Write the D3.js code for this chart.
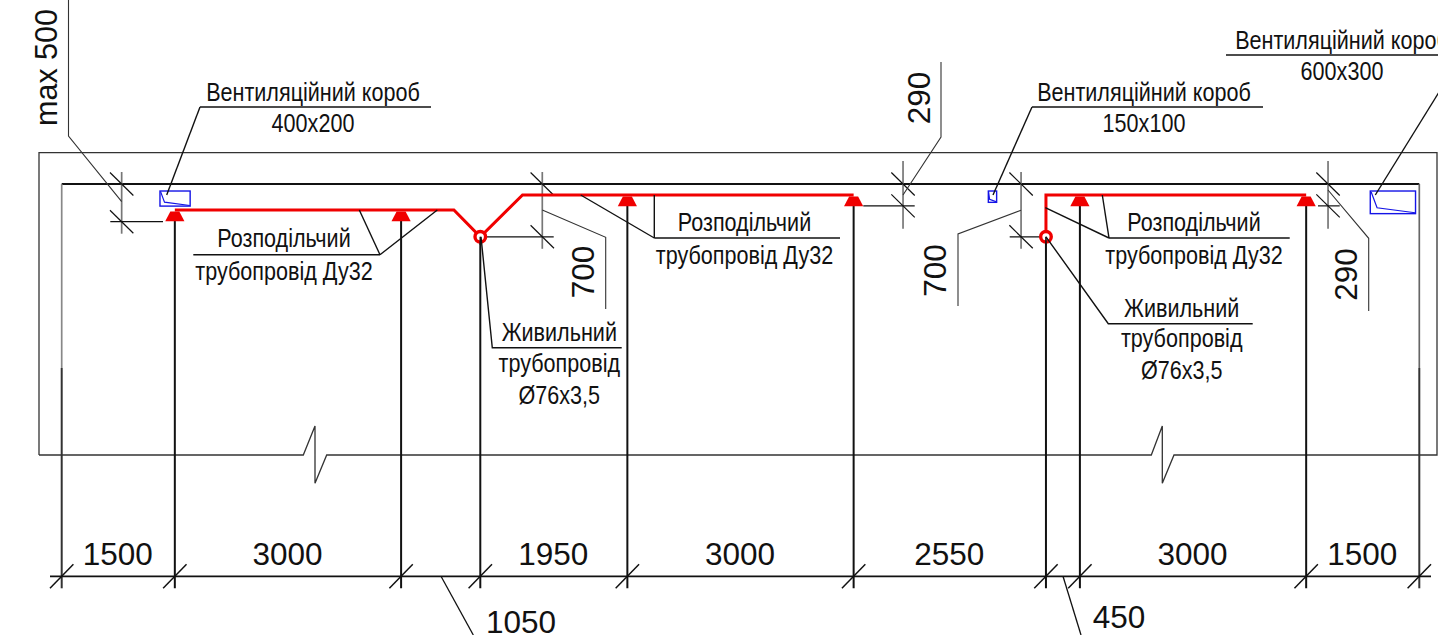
<!DOCTYPE html>
<html lang="uk">
<head>
<meta charset="utf-8">
<title>Розподільчий трубопровід</title>
<script src="https://cdnjs.cloudflare.com/ajax/libs/d3/7.8.5/d3.min.js"></script>
<style>
html,body{margin:0;padding:0;background:#fff;overflow:hidden}
svg{display:block}
text{fill:#111}
.dim{font-family:"Liberation Sans",Arial,sans-serif;font-size:31.5px}
.note{font-family:"Liberation Sans",Arial,sans-serif;font-size:25px}
</style>
</head>
<body>
<svg id="c" width="1438" height="635"></svg>
<script>
// ---- values (millimetres) ----
const spanValues = [1500, 3000, 1050, 1950, 3000, 2550, 450, 3000, 1500];
const spanLabelled = [1500, 3000, null, 1950, 3000, 2550, null, 3000, 1500];
const sprinklerAt = [1500, 4500, 7500, 10500, 13500, 16500];
const sprinklerDrop = [345, 345, 146, 146, 146, 146];
const riserAt = [5550, 13050];
const riserDrop = [700, 700];
const pipeLeftRun = [[1500, 345], [5200, 345], [5550, 700], [6110, 146], [10500, 146]];
const pipeRightRun = [[13050, 700], [13050, 146], [16500, 146]];
const ductAt = [1303, 12286, 17350];
const ductDrop = [93, 93, 93];
const ductWidth = [400, 110, 600];
const ductHeight = [200, 150, 300];
const ductLabels = ["400x200", "150x100", "600x300"];
const ductTitle = "Вентиляційний короб";
const distTitle = ["Розподільчий", "трубопровід Ду32"];
const feedTitle = ["Живильний", "трубопровід", "Ø76x3,5"];
const levelDims = [
  {at: 795, from: 0, to: 500},
  {at: 6372, from: 0, to: 700},
  {at: 11155, from: 0, to: 290},
  {at: 12720, from: 0, to: 700},
  {at: 16790, from: 0, to: 290}
];

// ---- scales ----
const W = 1438, H = 635, RED = "#f00000", BLUE = "#1414e6", INK = "#111";
const x = d3.scaleLinear().domain([0, 18000]).range([61.7, 1419.3]);
const y = d3.scaleLinear().domain([0, 1000]).range([184, 259.42]);
const svg = d3.select("#c");
const line = d3.line();
const NARROW = 0.863;
const path = (pts, w, c) => svg.append("path").attr("d", line(pts)).attr("fill", "none")
  .attr("stroke", c || INK).attr("stroke-width", w || 1.4).attr("stroke-linejoin", "miter");
const label = (cls, s, px, py, rot) => {
  const t = svg.append("text").attr("class", cls).attr("text-anchor", "middle").text(s);
  if (rot) t.attr("transform", `translate(${px},${py}) rotate(-90)`);
  else if (cls === "note") t.attr("transform", `translate(${px},${py}) scale(${NARROW},1)`);
  else t.attr("x", px).attr("y", py);
  return t;
};

// ---- building outline ----
const wallTop = 152.6, wallBottom = 455, dimY = 576.3, dimEnd = 588.3;
path([[39, wallBottom], [39, wallTop], [1437, wallTop], [1437, wallBottom], [1174, wallBottom], [1162.3, 483.3],
      [1162.3, 426], [1151.3, wallBottom], [326.7, wallBottom], [315, 483.3], [315, 426], [303.3, wallBottom], [39, wallBottom]], 1.3, "#333");
path([[x(0), y(0)], [x(18000), y(0)]], 1.9);

// ---- chain of dimensions along the bottom ----
const stops = d3.cumsum(spanValues);
const ticks = [0, ...stops];
const wallHeadY = 368;
path([[x(0), y(0)], [x(0), wallHeadY]], 1.7, "#888");
path([[x(18000), y(0)], [x(18000), wallHeadY]], 1.7, "#666");
path([[x(0), wallHeadY], [x(0), dimEnd]], 2, "#333");
path([[x(18000), wallHeadY], [x(18000), dimEnd]], 2, "#333");
path([[50, dimY], [1431, dimY]], 1.7);
svg.append("g").selectAll("path").data(ticks).join("path")
  .attr("d", d => line([[x(d) - 11.7, dimY + 12], [x(d) + 11.7, dimY - 12]]))
  .attr("stroke", INK).attr("stroke-width", 1.5).attr("fill", "none");
svg.append("g").selectAll("text").data(spanLabelled.map((v, i) => ({v, i})).filter(d => d.v !== null)).join("text")
  .attr("class", "dim").attr("text-anchor", "middle")
  .attr("x", d => x(ticks[d.i] + spanValues[d.i] / 2) - 0.5)
  .attr("y", 565).text(d => d.v);

// side call-outs of the two short spans
path([[441, dimY], [473.3, 635]], 1.3);
label("dim", spanValues[2], 521, 633);
path([[1063, dimY], [1081, 635]], 1.3);
label("dim", spanValues[6], 1119, 628);

// ---- hanger and riser verticals ----
svg.append("g").selectAll("path").data(sprinklerAt.map((v, i) => [v, sprinklerDrop[i]])).join("path")
  .attr("d", d => line([[x(d[0]), y(d[1]) + 11], [x(d[0]), dimEnd]]))
  .attr("stroke", INK).attr("stroke-width", 2);
svg.append("g").selectAll("path").data(riserAt.map((v, i) => [v, riserDrop[i]])).join("path")
  .attr("d", d => line([[x(d[0]), y(d[1])], [x(d[0]), dimEnd]]))
  .attr("stroke", INK).attr("stroke-width", 2);

// ---- level dimensions ----
levelDims.forEach(d => {
  const cx = x(d.at), y0 = y(d.from), y1 = y(d.to);
  path([[cx, y0 - (d.to === 290 ? 23 : 12)], [cx, y1 + (d.to === 290 ? 23 : 12)]], 1.7, "#777");
  [y0, y1].forEach(v => path([[cx - 11.7, v - 11.5], [cx + 11.7, v + 11.5]], 1.2));
});
path([[110.3, y(500)], [163, y(500)]], 1.2);
path([[481, y(700)], [553.7, y(700)]], 1.2);
path([[863.3, y(290)], [914.7, y(290)]], 1.2);
path([[1009.7, y(700)], [1046, y(700)]], 1.2);
path([[1318, y(290)], [1339.7, y(290)]], 1.2);

// level-dimension leaders
path([[68.5, 0], [68.5, 136], [121.7, 201.7]], 1.1, "#333");
path([[542.3, 210], [605.7, 237.3], [605.7, 309]], 1.1, "#333");
path([[903, 195], [941, 137], [941, 62]], 1.1, "#333");
path([[1021, 210.3], [958, 234], [958, 306]], 1.1, "#333");
path([[1328, 190], [1368.7, 238.3], [1368.7, 311]], 1.1, "#333");
label("dim", "max 500", 57, 67.5, true).style("font-size", "30.5px");
label("dim", levelDims[1].to, 594, 272, true);
label("dim", levelDims[2].to, 930, 98, true);
label("dim", levelDims[3].to, 946, 270.5, true);
label("dim", levelDims[4].to, 1357, 274.5, true);

// ---- ducts ----
ductAt.forEach((a, i) => {
  const x0 = x(a), y0 = y(ductDrop[i]), w = x(a + ductWidth[i]) - x0, h = y(ductDrop[i] + ductHeight[i]) - y0;
  svg.append("rect").attr("x", x0).attr("y", y0).attr("width", w).attr("height", h)
    .attr("fill", "#fff").attr("stroke", BLUE).attr("stroke-width", 1.4);
  path([[x0 + w * 0.02, y0 + h * 0.04], [x0 + w * 0.15, y0 + h * 0.74], [x0 + w * 0.99, y0 + h * 0.96]], 1.2, BLUE);
});

// ---- red pipes ----
[pipeLeftRun, pipeRightRun].forEach(run =>
  path(run.map(d => [x(d[0]), y(d[1])]), 3, RED));
svg.append("g").selectAll("path").data(sprinklerAt.map((v, i) => [v, sprinklerDrop[i]])).join("path")
  .attr("d", d => {
    const cx = x(d[0]), t = y(d[1]) + 1.5, b = t + 9.7;
    return line([[cx - 4.5, t], [cx + 4.5, t], [cx + 9.6, b], [cx - 9.6, b]]) + "Z";
  }).attr("fill", RED);
svg.append("g").selectAll("circle").data(riserAt.map((v, i) => [v, riserDrop[i]])).join("circle")
  .attr("cx", d => x(d[0])).attr("cy", d => y(d[1])).attr("r", 5.3)
  .attr("fill", "#fff").attr("stroke", RED).attr("stroke-width", 3.4);
svg.append("g").selectAll("path.h").data(riserAt.map((v, i) => [v, riserDrop[i]])).join("path")
  .attr("d", d => line([[x(d[0]), y(d[1])], [x(d[0]), y(d[1]) + 8]]))
  .attr("stroke", INK).attr("stroke-width", 1.6);

// ---- duct notes ----
const ductNotes = [
  {cx: 313, base: 101, rule: [200, 431], ruleY: 107, tail: [166.7, 195]},
  {cx: 1144, base: 101, rule: [1032, 1263], ruleY: 107, tail: [993, 195]},
  {cx: 1342, base: 49, rule: [1226, 1440], ruleY: 55, tail: [1375.3, 195], elbow: [1462, 55]}
];
ductNotes.forEach((n, i) => {
  path([n.tail, n.elbow || [n.rule[0], n.ruleY]], 1.4);
  path([[n.rule[0], n.ruleY], [n.rule[1], n.ruleY]], 1.4);
  label("note", ductTitle, i === 2 ? 1342 : n.cx, n.base);
  label("note", ductLabels[i], n.cx, n.base + 31);
});

// ---- distribution pipe notes ----
const distNotes = [
  {cx: 284, base: 247, ruleY: 254.7, rule: [193.3, 380], knee: 380, ends: [[359.3, 210], [437.3, 210]]},
  {cx: 744.5, base: 230.7, ruleY: 238, rule: [654.3, 840], knee: 654.3, ends: [[580.7, 195], [654.3, 195]]},
  {cx: 1194, base: 230.7, ruleY: 238, rule: [1109, 1289.7], knee: 1109, ends: [[1045.3, 207.7], [1102.3, 195]]}
];
distNotes.forEach(n => {
  path([[n.rule[0], n.ruleY], [n.rule[1], n.ruleY]], 1.4);
  n.ends.forEach(e => path([[n.knee, n.ruleY], e], 1.4));
  label("note", distTitle[0], n.cx, n.base);
  label("note", distTitle[1], n.cx, n.base + 33);
});

// ---- feed pipe notes ----
const feedNotes = [
  {cx: 559.3, bases: [341, 371.7, 403.5], ruleY: 347.7, rule: [492.3, 621.7], tail: [481, y(700)]},
  {cx: 1181.7, bases: [316.7, 346.7, 379], ruleY: 323.7, rule: [1108.3, 1252.7], tail: [1046, y(700)]}
];
feedNotes.forEach(n => {
  path([n.tail, [n.rule[0], n.ruleY], [n.rule[1], n.ruleY]], 1.4);
  feedTitle.forEach((s, i) => label("note", s, n.cx, n.bases[i]));
});
</script>
</body>
</html>
